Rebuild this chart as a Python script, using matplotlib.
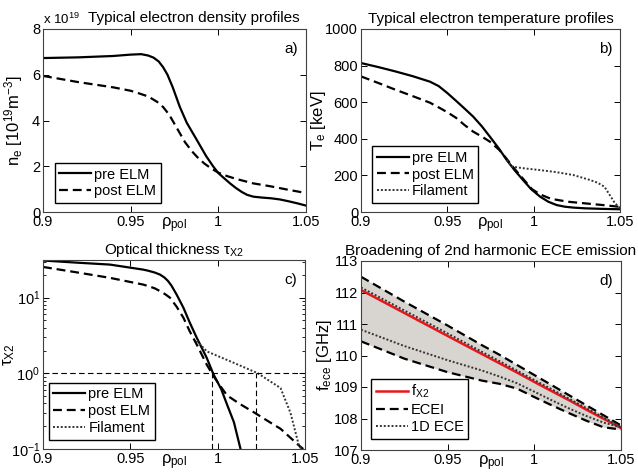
import matplotlib
matplotlib.use("Agg")
import matplotlib.pyplot as plt
from matplotlib.ticker import LogLocator, NullFormatter

plt.rcParams['font.family'] = ['Liberation Sans', 'DejaVu Sans']
plt.rcParams['mathtext.fontset'] = 'custom'
plt.rcParams['mathtext.rm'] = 'Liberation Sans'
plt.rcParams['mathtext.it'] = 'Liberation Sans'
plt.rcParams['mathtext.bf'] = 'Liberation Sans:bold'
plt.rcParams['xtick.direction'] = 'in'
plt.rcParams['ytick.direction'] = 'in'
plt.rcParams['xtick.top'] = True
plt.rcParams['ytick.right'] = True
plt.rcParams['font.size'] = 10.5

# ---------------- data ----------------
# a) density (units of 1e19 m^-3)
xa_pre = [0.90, 0.92, 0.94, 0.95, 0.956, 0.96, 0.963, 0.966, 0.9685, 0.971, 0.974, 0.978,
          0.982, 0.9878, 0.993, 0.997, 1.00, 1.004, 1.0067, 1.01, 1.0135, 1.0164, 1.02,
          1.025, 1.03, 1.035, 1.04, 1.045, 1.05]
ne_pre = [6.73, 6.76, 6.82, 6.88, 6.90, 6.84, 6.75, 6.58, 6.33, 6.0, 5.45, 4.6,
          3.9, 3.14, 2.45, 2.0, 1.7, 1.43, 1.25, 1.05, 0.87, 0.75, 0.67,
          0.63, 0.60, 0.55, 0.47, 0.38, 0.28]
xa_post = [0.90, 0.92, 0.94, 0.95, 0.955, 0.96, 0.965, 0.9685, 0.972, 0.975, 0.978, 0.981,
           0.985, 0.988, 0.992, 0.996, 1.00, 1.005, 1.01, 1.02, 1.03, 1.04, 1.05]
ne_post = [5.95, 5.68, 5.45, 5.30, 5.18, 5.05, 4.82, 4.59, 4.25, 3.85, 3.45, 3.05,
           2.65, 2.40, 2.12, 1.90, 1.72, 1.57, 1.45, 1.25, 1.12, 0.97, 0.83]

# b) temperature
xb_pre = [0.90, 0.91, 0.92, 0.93, 0.94, 0.945, 0.95, 0.955, 0.96, 0.965, 0.97, 0.9747,
          0.98, 0.9844, 0.989, 0.9938, 0.9985, 1.0037, 1.0085, 1.0133, 1.018, 1.023,
          1.03, 1.04, 1.05]
te_pre = [814, 792, 768, 742, 712, 688, 650, 608, 565, 521, 468, 411,
          345, 284, 228, 175, 125, 84, 56, 38, 29, 24,
          20, 17, 15]
xb_post = [0.90, 0.91, 0.92, 0.93, 0.94, 0.9457, 0.95, 0.955, 0.96, 0.965, 0.97, 0.9747,
           0.98, 0.9844, 0.989, 0.994, 0.999, 1.004, 1.01, 1.02, 1.03, 1.04, 1.05]
te_post = [741, 705, 668, 633, 597, 568, 545, 515, 475, 439, 412, 384,
           340, 290, 235, 180, 125, 95, 72, 56, 47, 38, 28]
xb_fil = [0.9844, 0.9873, 0.995, 1.0037, 1.013, 1.023, 1.0326, 1.037, 1.041, 1.047, 1.05]
te_fil = [284, 248, 238, 229, 218, 202, 175, 160, 138, 49, 22]

# c) optical thickness
xc_pre = [0.90, 0.92, 0.9383, 0.9574, 0.96, 0.964, 0.967, 0.9695, 0.9715, 0.9735, 0.9765,
          0.9804, 0.984, 0.988, 0.9937, 0.9976, 1.002, 1.0055, 1.0093, 1.0131]
tau_pre = [31, 29, 27.4, 23.5, 22.8, 21.5, 20.2, 18.5, 16.7, 14.5, 11,
           7.36, 4.7, 2.96, 1.61, 0.97, 0.62, 0.38, 0.226, 0.1]
xc_post = [0.90, 0.92, 0.9383, 0.9574, 0.96, 0.964, 0.967, 0.97, 0.9727, 0.9765, 0.9804,
           0.984, 0.988, 0.9937, 0.9976, 1.0015, 1.0054, 1.013, 1.0207, 1.028, 1.036,
           1.0466, 1.049]
tau_post = [25.5, 21.5, 18.3, 14.9, 14.3, 13.3, 12.2, 11.1, 10, 7.6, 5.43,
            3.6, 2.41, 1.31, 0.92, 0.68, 0.51, 0.39, 0.306, 0.24, 0.185,
            0.111, 0.1]
xc_fil = [0.988, 0.9892, 0.9938, 1.0073, 1.0227, 1.036, 1.0417, 1.0466, 1.048]
tau_fil = [2.7, 2.52, 1.95, 1.44, 1.01, 0.64, 0.30, 0.109, 0.1]
tau_level = 1.0
rho_cross = [0.997, 1.022]

# d) ECE frequencies
xd = [0.90, 0.925, 0.95, 0.97, 0.98, 0.99, 1.00, 1.01, 1.02, 1.03, 1.04, 1.05]
f_x2 = [112.08, 111.35, 110.62, 110.04, 109.75, 109.46, 109.16, 108.87, 108.58, 108.28, 107.99, 107.70]
ecei_up = [112.5, 111.71, 110.95, 110.32, 110.02, 109.70, 109.38, 109.06, 108.74, 108.42, 108.10, 107.78]
ecei_lo = [110.45, 109.90, 109.47, 109.20, 109.10, 108.95, 108.68, 108.42, 108.17, 107.93, 107.72, 107.65]
ece1d_up = [112.16, 111.43, 110.70, 110.11, 109.82, 109.52, 109.22, 108.93, 108.63, 108.33, 108.03, 107.74]
ece1d_lo = [110.82, 110.30, 109.85, 109.52, 109.33, 109.12, 108.85, 108.58, 108.32, 108.08, 107.87, 107.72]

# ---------------- figure ----------------
fig = plt.figure(figsize=(6.38, 4.76), dpi=100)
W, H = 638.0, 476.0

def mkax(l, r, t, b):
    return fig.add_axes([l / W, 1 - b / H, (r - l) / W, (b - t) / H])

axa = mkax(43, 306, 29, 212)
axb = mkax(361, 620, 29, 212)
axc = mkax(43, 305, 260, 449)
axd = mkax(361, 621, 261, 450)

DASH = (0, (4.0, 2.2))
DOT = (0, (1.0, 1.0))
LW = 1.6

for ax in (axa, axb, axc, axd):
    ax.set_xlim(0.9, 1.05)
    ax.set_xticks([0.9, 0.95, 1.0, 1.05])
    ax.set_xticklabels(['0.9', '0.95', '1', '1.05'])
    ax.tick_params(length=4, width=0.7, pad=2, labelsize=10.5)
    for s in ax.spines.values():
        s.set_linewidth(0.8)
        s.set_color('#404040')
    ax.text(0.5, -0.02, r'$\rho_{pol}$', transform=ax.transAxes, ha='center', va='top',
            fontsize=12)

leg_kw = dict(fancybox=False, edgecolor='black', framealpha=1, handlelength=2.2,
              borderpad=0.3, labelspacing=0.2, handletextpad=0.2, fontsize=10.5,
              borderaxespad=0)

# a)
axa.plot(xa_pre, ne_pre, color='black', lw=LW, label='pre ELM')
axa.plot(xa_post, ne_post, color='black', lw=LW, ls=DASH, label='post ELM')
axa.set_ylim(0, 8)
axa.set_yticks([0, 2, 4, 6, 8])
axa.set_ylabel(r'n$_e$ [10$^{19}$m$^{-3}$]', fontsize=12)
axa.yaxis.set_label_coords(-0.068, 0.5)
axa.legend(loc='lower left', bbox_to_anchor=(0.045, 0.05), **leg_kw)
axa.text(0.0, 1.01, r'x 10$^{19}$', transform=axa.transAxes, ha='left', va='bottom', fontsize=9.5)
axa.text(0.575, 1.02, 'Typical electron density profiles', transform=axa.transAxes,
         ha='center', va='bottom', fontsize=11)
axa.text(0.97, 0.93, 'a)', transform=axa.transAxes, ha='right', va='top', fontsize=11)

# b)
axb.plot(xb_pre, te_pre, color='black', lw=LW, label='pre ELM')
axb.plot(xb_post, te_post, color='black', lw=LW, ls=DASH, label='post ELM')
axb.plot(xb_fil, te_fil, color='#333333', lw=1.4, ls=DOT, label='Filament')
axb.set_ylim(0, 1000)
axb.set_yticks([0, 200, 400, 600, 800, 1000])
axb.set_ylabel(r'T$_e$ [keV]', fontsize=12)
axb.yaxis.set_label_coords(-0.127, 0.5)
axb.legend(loc='lower left', bbox_to_anchor=(0.043, 0.05), **leg_kw)
axb.set_title('Typical electron temperature profiles', fontsize=11, pad=4)
axb.text(0.97, 0.93, 'b)', transform=axb.transAxes, ha='right', va='top', fontsize=11)

# c)
axc.set_yscale('log')
axc.plot(xc_pre, tau_pre, color='black', lw=LW, label='pre ELM')
axc.plot(xc_post, tau_post, color='black', lw=LW, ls=DASH, label='post ELM')
axc.plot(xc_fil, tau_fil, color='#333333', lw=1.4, ls=DOT, label='Filament')
axc.axhline(tau_level, color='black', lw=0.8, ls=(0, (5, 3)))
for xr in rho_cross:
    axc.plot([xr, xr], [0.1, tau_level], color='black', lw=0.8, ls=(0, (5, 3)))
axc.set_ylim(0.1, 31.5)
axc.yaxis.set_major_locator(LogLocator(base=10, numticks=5))
axc.yaxis.set_minor_locator(LogLocator(base=10, subs=range(2, 10), numticks=20))
axc.yaxis.set_minor_formatter(NullFormatter())
axc.tick_params(which='minor', length=2, width=0.6)
axc.set_ylabel(r'$\tau_{X2}$', fontsize=12)
axc.yaxis.set_label_coords(-0.1, 0.5)
axc.legend(loc='lower left', bbox_to_anchor=(0.023, 0.05), **leg_kw)
axc.set_title(r'Optical thickness $\tau_{X2}$', fontsize=11, pad=4)
axc.text(0.97, 0.93, 'c)', transform=axc.transAxes, ha='right', va='top', fontsize=11)

# d)
axd.fill_between(xd, ecei_lo, ecei_up, color='#d8d5d1', lw=0)
axd.plot(xd, f_x2, color='#e8161b', lw=1.8, label=r'f$_{X2}$')
axd.plot(xd, ecei_up, color='black', lw=LW, ls=DASH, label='ECEI')
axd.plot(xd, ecei_lo, color='black', lw=LW, ls=DASH)
axd.plot(xd, ece1d_up, color='#333333', lw=1.4, ls=DOT, label='1D ECE')
axd.plot(xd, ece1d_lo, color='#333333', lw=1.4, ls=DOT)
axd.set_ylim(107, 113)
axd.set_yticks([107, 108, 109, 110, 111, 112, 113])
axd.set_ylabel(r'f$_{ece}$ [GHz]', fontsize=12)
axd.yaxis.set_label_coords(-0.102, 0.5)
axd.legend(loc='lower left', bbox_to_anchor=(0.04, 0.06), **leg_kw)
axd.set_title('Broadening of 2nd harmonic ECE emission', fontsize=11, pad=4)
axd.text(0.97, 0.93, 'd)', transform=axd.transAxes, ha='right', va='top', fontsize=11)

fig.savefig('out.png', dpi=100)
